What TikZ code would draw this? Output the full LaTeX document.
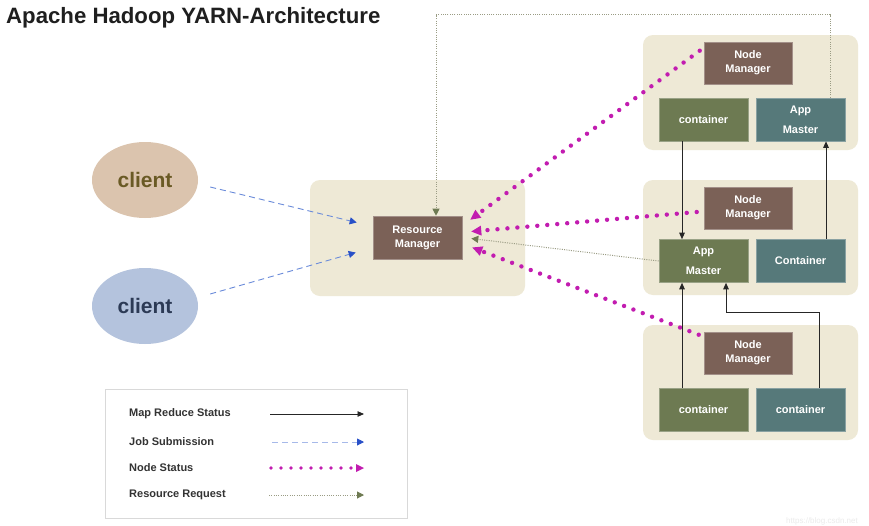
\documentclass[tikz,border=0pt]{standalone}
\usepackage{fontspec}
\setmainfont{Liberation Sans}
\usetikzlibrary{arrows.meta,calc,shapes.geometric}
\definecolor{panel}{HTML}{EEE9D6}
\definecolor{brownbox}{HTML}{7B6157}
\definecolor{greenbox}{HTML}{6D7A52}
\definecolor{tealbox}{HTML}{56797A}
\definecolor{cloneA}{HTML}{DBC4AE}
\definecolor{cloneAt}{HTML}{6A5A25}
\definecolor{cloneB}{HTML}{B4C3DD}
\definecolor{cloneBt}{HTML}{2C3A55}
\definecolor{magentaline}{HTML}{C21CB0}
\definecolor{blueline}{HTML}{6A8BDA}
\definecolor{bluetip}{HTML}{2850C8}
\definecolor{rrline}{HTML}{9A9C84}
\definecolor{rrtip}{HTML}{6E7A52}
\definecolor{legendtext}{HTML}{333333}
\tikzset{
  panelbox/.style={fill=panel, rounded corners=10pt, minimum width=215pt, minimum height=115pt, inner sep=0pt},
  boxbase/.style={minimum width=89pt, minimum height=43pt, inner sep=0pt, text=white, align=center, font=\bfseries\fontsize{11}{14}\selectfont},
  brownnode/.style={boxbase, fill=brownbox, draw=brownbox!70!white, line width=0.6pt},
  greennode/.style={boxbase, fill=greenbox, draw=greenbox!70!white, line width=0.6pt},
  tealnode/.style={boxbase, fill=tealbox, draw=tealbox!70!white, line width=0.6pt},
  amtext/.style={font=\bfseries\fontsize{11}{20}\selectfont},
  clientnode/.style={ellipse, minimum width=106pt, minimum height=76pt, inner sep=0pt, font=\bfseries\fontsize{21}{24}\selectfont},
  mr/.style={draw=black!85, line width=0.9pt, -{Triangle[length=6.5pt,width=5.5pt]}},
  js/.style={draw=blueline, line width=0.9pt, dash pattern=on 6pt off 4pt, -{Triangle[length=7pt,width=7pt,fill=bluetip,color=bluetip]}},
  ns/.style={draw=magentaline, line width=4.4pt, line cap=round, dash pattern=on 0pt off 10pt, -{Triangle[length=10pt,width=10pt,line width=0pt]}},
  rr/.style={draw=rrline, line width=1pt, dash pattern=on 1pt off 1.3pt, -{Triangle[length=7pt,width=7pt,fill=rrtip,color=rrtip]}},
  legendlabel/.style={anchor=west, inner sep=0pt, text=legendtext, font=\bfseries\fontsize{11}{13}\selectfont},
}
\begin{document}
\begin{tikzpicture}[x=1pt,y=-1pt]
\clip (0,0) rectangle (869,525);
\fill[white] (0,0) rectangle (869,525);

% title
\node[anchor=west, inner sep=0pt, text=black!88, font=\bfseries\fontsize{22.2}{24}\selectfont] (title) at (6,17.5) {Apache Hadoop YARN-Architecture};

% panels
\node[panelbox, minimum height=116pt] (prm) at (417.5,238) {};
\node[panelbox] (p1) at (750.5,92.5) {};
\node[panelbox] (p2) at (750.5,237.5) {};
\node[panelbox] (p3) at (750.5,382.5) {};

% resource manager
\node[brownnode] (rm) at (417.5,237.5) {Resource\\Manager};

% top panel
\node[brownnode, minimum width=88pt, minimum height=42pt] (nm1) at (748,63) {Node\\Manager};
\node[greennode] (c1) at (703.5,119.5) {container};
\node[tealnode, amtext] (am1) at (800.5,119.5) {App\\Master};

% middle panel
\node[brownnode, minimum width=88pt, minimum height=42pt] (nm2) at (748,208) {Node\\Manager};
\node[greennode, amtext] (am2) at (703.5,261) {App\\Master};
\node[tealnode] (c2) at (800.5,261) {Container};

% bottom panel
\node[brownnode, minimum width=88pt, minimum height=42pt] (nm3) at (748,353) {Node\\Manager};
\node[greennode] (c3a) at (703.5,410) {container};
\node[tealnode] (c3b) at (800.5,410) {container};

% clients
\node[clientnode, fill=cloneA, text=cloneAt] (cl1) at (145,180) {client};
\node[clientnode, fill=cloneB, text=cloneBt] (cl2) at (145,306) {client};

% job submission
\draw[js] ($(cl1.east)+(12,7)$) -- ($(rm.west)+(-16,-15)$);
\draw[js] ($(cl2.east)+(12,-12)$) -- ($(rm.west)+(-17,15)$);

% resource requests
\draw[rr] ([xshift=29.5pt]am1.north) -- ++(0,-83) -| ([xshift=18.5pt]rm.north);
\draw[rr] (am2.west) -- ($(rm.east)+(9,1)$);

% node status
\draw[ns] ($(nm1.north west)+(-4,9)$) -- ($(rm.north east)+(8,4)$);
\draw[ns] ($(nm2.west)+(-7,4)$) -- ($(rm.east)+(9,-6)$);
\draw[ns] ($(nm3.north west)+(-5,3)$) -- ($(rm.east)+(10,10)$);

% map reduce status
\draw[mr] ([xshift=-21.5pt]c1.south) -- ([xshift=-21.5pt]am2.north);
\draw[mr] ([xshift=25.5pt]c2.north) -- ([xshift=25.5pt]am1.south);
\draw[mr] ([xshift=-21.5pt]c3a.north) -- ([xshift=-21.5pt]am2.south);
\draw[mr] ([xshift=18.5pt]c3b.north) -- ++(0,-75.5) -| ([xshift=22.5pt]am2.south);

% legend
\node[draw=black!15, line width=0.8pt, minimum width=302pt, minimum height=129pt, inner sep=0pt] (legend) at (256,453.5) {};
\node[legendlabel] (lg1) at (129,414) {Map Reduce Status};
\node[legendlabel] (lg2) at (129,442) {Job Submission};
\node[legendlabel] (lg3) at (129,468) {Node Status};
\node[legendlabel] (lg4) at (129,495) {Resource Request};
\coordinate (l1a) at (270,414); \coordinate (l1b) at (364,414);
\coordinate (l2a) at (272,442); \coordinate (l2b) at (364,442);
\coordinate (l3a) at (271,468); \coordinate (l3b) at (364,468);
\coordinate (l4a) at (269,495); \coordinate (l4b) at (364,495);
\draw[mr] (l1a) -- (l1b);
\draw[js, draw=blueline!60!white] (l2a) -- (l2b);
\draw[ns, line width=3.6pt, dash pattern=on 0pt off 10pt, -{Triangle[length=8pt,width=8pt,line width=0pt]}] (l3a) -- (l3b);
\draw[rr] (l4a) -- (l4b);

% watermark
\node[anchor=west, inner sep=0pt, text=black!8, font=\fontsize{8}{9}\selectfont] (wm) at (786,521) {https://blog.csdn.net};
\end{tikzpicture}
\end{document}
